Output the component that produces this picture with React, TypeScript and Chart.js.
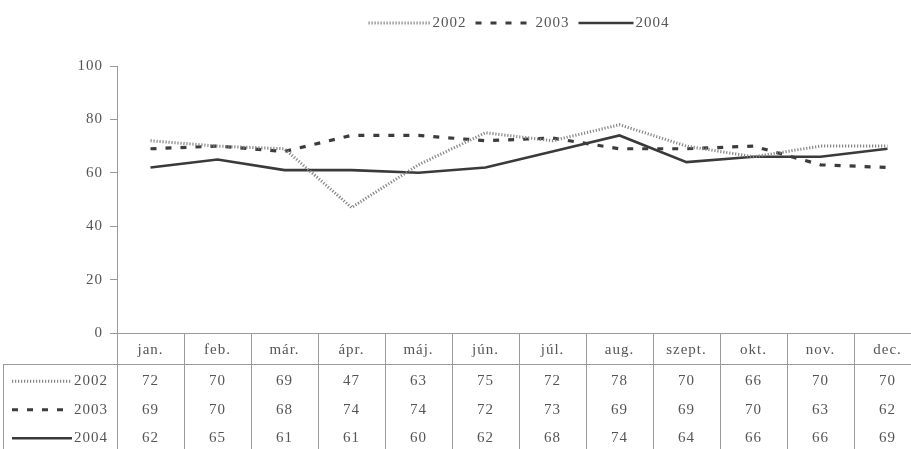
import React, { useEffect, useRef } from "react";
import { Chart, registerables } from "chart.js";

Chart.register(...registerables);

const months = ["jan.", "feb.", "már.", "ápr.", "máj.", "jún.", "júl.", "aug.", "szept.", "okt.", "nov.", "dec."];
const years = ["2002", "2003", "2004"];
const values2002 = [72, 70, 69, 47, 63, 75, 72, 78, 70, 66, 70, 70];
const values2003 = [69, 70, 68, 74, 74, 72, 73, 69, 69, 70, 63, 62];
const values2004 = [62, 65, 61, 61, 60, 62, 68, 74, 64, 66, 66, 69];
const yMin = 0;
const yMax = 100;
const yStep = 20;

const FONT = "'Liberation Serif', 'Times New Roman', serif";
const TEXT = "#555";
const RULE = "#9a9a9a";

type LineStyle = { color: string; width: number; dash: number[] };
const styles: LineStyle[] = [
  { color: "#858585", width: 3, dash: [1.2, 1.8] },
  { color: "#3c3c3c", width: 3.2, dash: [6, 9] },
  { color: "#3a3a3a", width: 2.6, dash: [] },
];
const seriesValues = [values2002, values2003, values2004];

function sample(ctx: CanvasRenderingContext2D, s: LineStyle, x0: number, x1: number, y: number) {
  ctx.save();
  ctx.strokeStyle = s.color;
  ctx.lineWidth = s.width;
  ctx.setLineDash(s.dash);
  ctx.beginPath();
  ctx.moveTo(x0, y);
  ctx.lineTo(x1, y);
  ctx.stroke();
  ctx.restore();
}

// Legend above the plot and data table below it
const tablePlugin = {
  id: "tableAndLegend",
  beforeDraw(chart: any) {
    (chart.ctx as any).letterSpacing = "1px";
  },
  afterDraw(chart: any) {
    const ctx: CanvasRenderingContext2D = chart.ctx;
    const area = chart.chartArea;
    const xs = chart.scales.x;
    const colW = (area.right - area.left) / months.length;
    const bottom = chart.height;
    const catTop = area.bottom;
    const catBottom = catTop + 31;
    const rowH = 28.5;
    const tableLeft = 3;

    ctx.save();
    (ctx as any).letterSpacing = "1px";
    ctx.font = `15px ${FONT}`;
    ctx.fillStyle = TEXT;

    // grid of the table
    ctx.strokeStyle = RULE;
    ctx.lineWidth = 1;
    ctx.beginPath();
    ctx.moveTo(area.left, catTop + 0.5);
    ctx.lineTo(area.right, catTop + 0.5);
    ctx.moveTo(tableLeft, catBottom + 0.5);
    ctx.lineTo(area.right, catBottom + 0.5);
    ctx.moveTo(tableLeft + 0.5, catBottom);
    ctx.lineTo(tableLeft + 0.5, bottom);
    for (let i = 0; i <= months.length; i++) {
      const x = Math.round(area.left + i * colW) + 0.5;
      ctx.moveTo(x, catTop);
      ctx.lineTo(x, bottom);
    }
    ctx.stroke();

    // category row
    ctx.textAlign = "center";
    ctx.textBaseline = "middle";
    months.forEach((m, i) => {
      ctx.fillText(m, xs.getPixelForValue(i), (catTop + catBottom) / 2 + 2);
    });

    // value rows
    years.forEach((yr, r) => {
      const cy = catBottom + rowH * r + rowH / 2 + 3;
      ctx.textAlign = "center";
      seriesValues[r].forEach((v, i) => {
        ctx.fillText(String(v), xs.getPixelForValue(i), cy);
      });
      ctx.textAlign = "right";
      ctx.fillText(yr, area.left - 9, cy);
      sample(ctx, styles[r], 12, area.left - 9 - ctx.measureText(yr).width - 2, cy);
    });

    // legend
    const items = years.map((yr) => ({ yr, w: ctx.measureText(yr).width }));
    const sampleW = [62, 58, 55];
    const gap = 9;
    let total = 0;
    items.forEach((it, i) => (total += sampleW[i] + 2 + it.w + (i < items.length - 1 ? gap : 0)));
    let x = (area.left + area.right) / 2 - total / 2;
    const ly = 23;
    ctx.textAlign = "left";
    items.forEach((it, i) => {
      sample(ctx, styles[i], x, x + sampleW[i], ly);
      x += sampleW[i] + 2;
      ctx.fillText(it.yr, x, ly);
      x += it.w + gap;
    });
    ctx.restore();
  },
};

export default function App() {
  const ref = useRef<HTMLCanvasElement>(null);

  useEffect(() => {
    if (!ref.current) return;
    const chart = new Chart(ref.current, {
      type: "line",
      data: {
        labels: months,
        datasets: years.map((yr, i) => ({
          label: yr,
          data: seriesValues[i],
          borderColor: styles[i].color,
          borderWidth: styles[i].width,
          borderDash: styles[i].dash,
          pointRadius: 0,
          tension: 0,
          fill: false,
        })),
      },
      options: {
        animation: false,
        responsive: false,
        maintainAspectRatio: false,
        layout: { padding: { top: 66, bottom: 116, left: 0, right: 0 } },
        plugins: { legend: { display: false }, tooltip: { enabled: false } },
        scales: {
          x: { type: "category", offset: true, display: false },
          y: {
            min: yMin,
            max: yMax,
            ticks: { stepSize: yStep, color: TEXT, padding: 7, font: { family: FONT, size: 15 } },
            grid: { drawOnChartArea: false, drawTicks: true, tickLength: 7, color: RULE },
            border: { display: true, color: RULE },
            afterFit: (scale: any) => {
              scale.width = 117;
            },
          },
        },
      },
      plugins: [tablePlugin],
    });
    return () => chart.destroy();
  }, []);

  return (
    <div style={{ position: "absolute", left: 0, top: 0, width: 911, height: 449, overflow: "hidden", background: "#fff" }}>
      <canvas ref={ref} width={921} height={449} style={{ display: "block" }} />
    </div>
  );
}
